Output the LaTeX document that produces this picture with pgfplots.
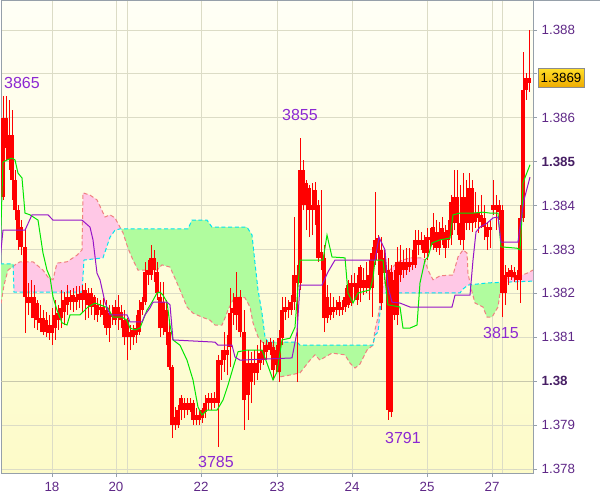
\documentclass[border=0pt]{standalone}
\usepackage{fontspec}
\setmainfont{Liberation Sans}
\usepackage{pgfplots}
\usepackage{pgfplotstable}
\pgfplotsset{compat=1.18}

\definecolor{bgtop}{RGB}{255,255,246}
\definecolor{bgbot}{RGB}{253,251,200}
\definecolor{gridc}{RGB}{220,220,198}
\definecolor{gridd}{RGB}{200,200,172}
\definecolor{axc}{RGB}{150,160,170}
\definecolor{tickc}{RGB}{95,40,135}
\definecolor{tickb}{RGB}{70,30,100}
\definecolor{annc}{RGB}{140,40,210}
\definecolor{cloudpink}{RGB}{255,200,230}
\definecolor{cloudgreen}{RGB}{176,252,158}
\definecolor{spana}{RGB}{240,128,128}
\definecolor{spanb}{RGB}{0,228,240}
\definecolor{tenkan}{RGB}{0,230,0}
\definecolor{kijun}{RGB}{150,20,200}
\definecolor{boxtop}{RGB}{255,222,40}
\definecolor{boxbot}{RGB}{238,170,0}

\pgfplotstableread{
x lo bb bt hi
3 1.38413 1.38420 1.38600 1.38650
6 1.38504 1.38531 1.38600 1.38650
9 1.38481 1.38504 1.38561 1.38641
12 1.38413 1.38458 1.38561 1.38618
15 1.38367 1.38390 1.38458 1.38481
18 1.38299 1.38322 1.38390 1.38401
21 1.38287 1.38306 1.38351 1.38367
25 1.38110 1.38192 1.38306 1.38344
28 1.38151 1.38178 1.38192 1.38224
31 1.38144 1.38178 1.38192 1.38231
34 1.38121 1.38144 1.38192 1.38219
37 1.38117 1.38139 1.38178 1.38185
40 1.38112 1.38133 1.38144 1.38174
43 1.38105 1.38112 1.38144 1.38162
46 1.38101 1.38112 1.38139 1.38158
49 1.38094 1.38110 1.38128 1.38151
52 1.38082 1.38110 1.38128 1.38167
55 1.38094 1.38121 1.38151 1.38185
58 1.38117 1.38139 1.38155 1.38174
61 1.38121 1.38144 1.38167 1.38208
64 1.38128 1.38158 1.38185 1.38203
67 1.38151 1.38174 1.38192 1.38219
70 1.38162 1.38180 1.38192 1.38208
73 1.38158 1.38180 1.38196 1.38212
76 1.38162 1.38180 1.38192 1.38217
79 1.38167 1.38185 1.38199 1.38217
82 1.38158 1.38185 1.38201 1.38219
85 1.38139 1.38185 1.38208 1.38224
88 1.38144 1.38174 1.38201 1.38212
91 1.38151 1.38169 1.38201 1.38212
94 1.38139 1.38169 1.38192 1.38196
97 1.38135 1.38151 1.38174 1.38190
100 1.38146 1.38162 1.38169 1.38185
103 1.38128 1.38151 1.38169 1.38190
106 1.38105 1.38121 1.38162 1.38185
109 1.38089 1.38121 1.38155 1.38174
112 1.38128 1.38146 1.38151 1.38174
115 1.38128 1.38139 1.38169 1.38185
118 1.38117 1.38144 1.38169 1.38196
121 1.38121 1.38139 1.38158 1.38174
124 1.38082 1.38101 1.38139 1.38162
127 1.38048 1.38101 1.38139 1.38144
130 1.38071 1.38101 1.38112 1.38128
133 1.38082 1.38101 1.38117 1.38128
136 1.38087 1.38105 1.38121 1.38151
139 1.38105 1.38112 1.38162 1.38185
142 1.38151 1.38162 1.38180 1.38192
145 1.38174 1.38180 1.38249 1.38272
148 1.38219 1.38242 1.38253 1.38276
151 1.38231 1.38242 1.38281 1.38310
154 1.38226 1.38253 1.38281 1.38299
157 1.38185 1.38201 1.38249 1.38272
160 1.38101 1.38121 1.38192 1.38226
163 1.38105 1.38121 1.38180 1.38226
166 1.38082 1.38112 1.38162 1.38185
169 1.38026 1.38032 1.38112 1.38139
172 1.37871 1.37900 1.38032 1.38037
175 1.37889 1.37900 1.37918 1.37941
178 1.37893 1.37900 1.37934 1.37946
181 1.37912 1.37934 1.37962 1.37969
184 1.37916 1.37934 1.37950 1.37962
187 1.37923 1.37934 1.37950 1.37962
190 1.37930 1.37934 1.37950 1.37962
193 1.37900 1.37912 1.37950 1.37957
196 1.37900 1.37912 1.37923 1.37939
199 1.37900 1.37912 1.37923 1.37934
202 1.37905 1.37916 1.37934 1.37939
205 1.37916 1.37930 1.37950 1.37969
208 1.37934 1.37950 1.37962 1.37973
211 1.37934 1.37950 1.37962 1.37973
214 1.37939 1.37950 1.37962 1.37975
218 1.37850 1.37950 1.38048 1.38060
221 1.38003 1.38037 1.38048 1.38071
224 1.38021 1.38048 1.38071 1.38112
227 1.38014 1.38060 1.38071 1.38105
230 1.38032 1.38078 1.38155 1.38212
233 1.38128 1.38155 1.38167 1.38201
236 1.38117 1.38151 1.38192 1.38249
240 1.38101 1.38112 1.38192 1.38208
244 1.37889 1.37957 1.38112 1.38162
248 1.37912 1.37969 1.38041 1.38071
251 1.37950 1.37998 1.38041 1.38067
254 1.37991 1.38019 1.38041 1.38071
257 1.38003 1.38019 1.38041 1.38082
260 1.38026 1.38041 1.38064 1.38094
263 1.38037 1.38048 1.38071 1.38089
266 1.38048 1.38067 1.38082 1.38094
270 1.38060 1.38071 1.38089 1.38098
273 1.38003 1.38026 1.38078 1.38094
276 1.38021 1.38037 1.38071 1.38082
279 1.37998 1.38021 1.38098 1.38117
282 1.38082 1.38098 1.38162 1.38192
285 1.38139 1.38158 1.38169 1.38192
288 1.38144 1.38162 1.38169 1.38185
291 1.38151 1.38162 1.38180 1.38196
294 1.38162 1.38180 1.38242 1.38374
297 1.37998 1.38224 1.38242 1.38265
300 1.38208 1.38224 1.38481 1.38554
303 1.38390 1.38401 1.38481 1.38504
306 1.38344 1.38401 1.38452 1.38458
309 1.38328 1.38390 1.38440 1.38447
312 1.38333 1.38390 1.38401 1.38452
315 1.38356 1.38390 1.38436 1.38454
318 1.38272 1.38281 1.38401 1.38413
321 1.38253 1.38281 1.38294 1.38436
324 1.38112 1.38144 1.38281 1.38310
327 1.38133 1.38144 1.38192 1.38219
330 1.38139 1.38151 1.38169 1.38201
333 1.38144 1.38158 1.38169 1.38192
336 1.38151 1.38162 1.38169 1.38185
339 1.38149 1.38162 1.38180 1.38194
342 1.38151 1.38162 1.38169 1.38185
345 1.38158 1.38169 1.38192 1.38212
348 1.38167 1.38174 1.38219 1.38231
351 1.38171 1.38178 1.38224 1.38242
354 1.38185 1.38215 1.38224 1.38246
357 1.38174 1.38185 1.38224 1.38242
360 1.38180 1.38212 1.38260 1.38265
363 1.38196 1.38212 1.38231 1.38258
366 1.38201 1.38212 1.38231 1.38272
369 1.38185 1.38212 1.38242 1.38276
372 1.38146 1.38212 1.38292 1.38306
375 1.38265 1.38276 1.38322 1.38431
378 1.38242 1.38292 1.38326 1.38333
381 1.38162 1.38178 1.38299 1.38328
384 1.38231 1.38246 1.38281 1.38299
388 1.37912 1.37934 1.38253 1.38281
391 1.37918 1.37930 1.38249 1.38265
394 1.38139 1.38151 1.38231 1.38253
397 1.38128 1.38151 1.38272 1.38306
400 1.38226 1.38242 1.38272 1.38310
403 1.38235 1.38253 1.38272 1.38299
406 1.38242 1.38253 1.38272 1.38303
409 1.38249 1.38260 1.38272 1.38303
412 1.38253 1.38265 1.38272 1.38299
415 1.38258 1.38265 1.38322 1.38344
418 1.38287 1.38310 1.38322 1.38344
421 1.38299 1.38310 1.38322 1.38340
424 1.38281 1.38292 1.38322 1.38333
427 1.38276 1.38292 1.38328 1.38349
430 1.38303 1.38322 1.38328 1.38349
433 1.38299 1.38310 1.38351 1.38383
436 1.38294 1.38303 1.38340 1.38367
439 1.38287 1.38303 1.38340 1.38363
442 1.38310 1.38322 1.38349 1.38374
445 1.38281 1.38303 1.38340 1.38356
448 1.38303 1.38322 1.38344 1.38367
451 1.38310 1.38333 1.38408 1.38424
454 1.38344 1.38360 1.38420 1.38481
457 1.38333 1.38360 1.38420 1.38481
460 1.38310 1.38322 1.38360 1.38447
463 1.38299 1.38322 1.38420 1.38474
466 1.38344 1.38360 1.38420 1.38458
469 1.38344 1.38360 1.38440 1.38474
472 1.38340 1.38360 1.38440 1.38458
475 1.38349 1.38363 1.38383 1.38431
478 1.38338 1.38372 1.38383 1.38401
481 1.38349 1.38363 1.38379 1.38424
484 1.38322 1.38351 1.38372 1.38401
487 1.38299 1.38328 1.38351 1.38363
490 1.38303 1.38344 1.38351 1.38367
493 1.38379 1.38390 1.38401 1.38458
496 1.38344 1.38390 1.38401 1.38424
499 1.38367 1.38385 1.38401 1.38413
502 1.38146 1.38201 1.38390 1.38401
505 1.38174 1.38201 1.38242 1.38265
508 1.38219 1.38237 1.38249 1.38258
511 1.38231 1.38237 1.38253 1.38265
514 1.38226 1.38237 1.38249 1.38260
517 1.38208 1.38231 1.38242 1.38253
520 1.38178 1.38231 1.38372 1.38401
523 1.38363 1.38372 1.38663 1.38750
526 1.38641 1.38663 1.38691 1.38702
529 1.38659 1.38679 1.38691 1.38800
}\candles

\begin{document}
\begin{tikzpicture}
\path[use as bounding box] (-0.75pt,-18pt) rectangle (449.25pt,354.75pt);
\begin{axis}[
  at={(0pt,0pt)}, anchor=south west,
  scale only axis, width=399pt, height=354pt,
  xmin=1, xmax=533, ymin=1.3779089, ymax=1.388661,
  axis background/.style={top color=bgtop, bottom color=bgbot},
  axis line style={draw=axc, line width=0.75pt},
  tick align=outside, major tick length=3pt,
  tick style={draw=axc, line width=0.75pt},
  xtick pos=bottom, ytick pos=right, yticklabel pos=right,
  grid=major, major grid style={draw=gridc, line width=0.75pt},
  xtick={52,116,201,277,352,427,492},
  xticklabels={18,20,22,23,24,25,27},
  extra x ticks={127,502}, extra x tick labels={},
  extra x tick style={grid=major, major tick length=0pt},
  ytick={1.378,1.379,1.381,1.382,1.383,1.384,1.386,1.387,1.388},
  yticklabels={1.378,1.379,1.381,1.382,1.383,1.384,1.386,{},1.388},
  extra y ticks={1.38,1.385},
  extra y tick labels={\textbf{1.38},\textbf{1.385}},
  extra y tick style={grid=major, major grid style={draw=gridd, line width=0.75pt}, yticklabel style={text=tickb}},
  ticklabel style={font=\fontsize{10}{12}\selectfont, text=tickc},
  yticklabel style={anchor=west},
  scaled y ticks=false,
]
% cloud fills (between span A and span B)
\addplot[fill=cloudgreen, draw=none] coordinates {
(0,1.38162)(4,1.38219)(8,1.38253)(13.1,1.38261)(13,1.38267)(0,1.38267)} -- cycle;
\addplot[fill=cloudpink, draw=none] coordinates {
(13.1,1.38261)(15,1.38265)(20,1.38272)(33,1.38272)(43,1.38253)(48,1.38237)(53,1.38231)(57,1.38269)(67,1.38272)(77,1.38287)(82,1.38299)(83,1.38429)(90,1.38424)(97,1.38413)(105,1.38374)(110,1.38379)(115,1.38372)(120.9,1.38347)
(120,1.38347)(115,1.38344)(110,1.38328)(103,1.38281)(84,1.38276)(82,1.38203)(14,1.38203)(13.1,1.38261)} -- cycle;
\addplot[fill=cloudgreen, draw=none] coordinates {
(120.9,1.38347)(188,1.38347)(192,1.38367)(207,1.38367)(212,1.38351)(247,1.38351)(252,1.38333)(255,1.38269)(258,1.38208)(262,1.38155)(265,1.38101)(268,1.38089)(297,1.38089)(300,1.38082)(373,1.38082)
(367,1.38071)(360,1.38039)(355,1.38030)(350,1.38041)(345,1.38060)(332,1.38064)(325,1.38055)(320,1.38048)(315,1.38060)(310,1.38048)(300,1.38019)(290,1.38014)(280,1.38010)(273,1.38080)(268,1.38082)(263,1.38087)(258,1.38101)(253,1.38133)(250,1.38169)(245,1.38190)(240,1.38192)(233,1.38185)(228,1.38162)(225,1.38144)(222,1.38128)(215,1.38128)(210,1.38139)(202,1.38146)(193,1.38155)(187,1.38169)(180,1.38208)(177,1.38224)(170,1.38260)(162,1.38265)(157,1.38253)(138,1.38253)(133,1.38276)(128,1.38303)(123,1.38338)(120.9,1.38347)} -- cycle;
\addplot[fill=cloudpink, draw=none] coordinates {
(373,1.38082)(375,1.38117)(378,1.38146)(380,1.38178)(382,1.38208)(388,1.38249)(395,1.38265)(400,1.38274)(410,1.38281)(422,1.38281)(425,1.38276)(428,1.38253)(433,1.38231)(440,1.38240)(453,1.38242)(458,1.38283)(463,1.38299)(467,1.38292)(468,1.38246)(470.35,1.38219)
(468,1.38219)(463,1.38210)(460,1.38201)(382,1.38201)(380,1.38158)(378,1.38112)(375,1.38105)(373,1.38082)} -- cycle;
\addplot[fill=cloudgreen, draw=none] coordinates {
(470.35,1.38219)(488,1.38224)(502.6,1.38225)
(502,1.38224)(500,1.38201)(498,1.38169)(492,1.38146)(487,1.38146)(483,1.38169)(475,1.38178)(471,1.38212)(470.35,1.38219)} -- cycle;
\addplot[fill=cloudpink, draw=none] coordinates {
(502.6,1.38225)(507,1.38235)(517,1.38237)(527,1.38246)(533,1.38253)(533,1.38228)(502.6,1.38225)} -- cycle;

% Senkou span A (salmon) and B (cyan)
\addplot[draw=spana, line width=0.75pt, dash pattern=on 3pt off 2pt, mark=none] coordinates {
(0,1.38162)(4,1.38219)(8,1.38253)(15,1.38265)(20,1.38272)(33,1.38272)(43,1.38253)(48,1.38237)(53,1.38231)(57,1.38269)(67,1.38272)(77,1.38287)(82,1.38299)(83,1.38429)(90,1.38424)(97,1.38413)(105,1.38374)(110,1.38379)(115,1.38372)(123,1.38338)(128,1.38303)(133,1.38276)(138,1.38253)(157,1.38253)(162,1.38265)(170,1.38260)(177,1.38224)(180,1.38208)(187,1.38169)(193,1.38155)(202,1.38146)(210,1.38139)(215,1.38128)(222,1.38128)(225,1.38144)(228,1.38162)(233,1.38185)(240,1.38192)(245,1.38190)(250,1.38169)(253,1.38133)(258,1.38101)(263,1.38087)(268,1.38082)(273,1.38080)(280,1.38010)(290,1.38014)(300,1.38019)(310,1.38048)(315,1.38060)(320,1.38048)(325,1.38055)(332,1.38064)(345,1.38060)(350,1.38041)(355,1.38030)(360,1.38039)(367,1.38071)(373,1.38082)(375,1.38117)(378,1.38146)(380,1.38178)(382,1.38208)(388,1.38249)(395,1.38265)(400,1.38274)(410,1.38281)(422,1.38281)(425,1.38276)(428,1.38253)(433,1.38231)(440,1.38240)(453,1.38242)(458,1.38283)(463,1.38299)(467,1.38292)(468,1.38246)(471,1.38212)(475,1.38178)(483,1.38169)(487,1.38146)(492,1.38146)(498,1.38169)(500,1.38201)(502,1.38224)(507,1.38235)(517,1.38237)(527,1.38246)(533,1.38253)
};
\addplot[draw=spanb, line width=0.75pt, dash pattern=on 3pt off 2pt, mark=none] coordinates {
(0,1.38267)(13,1.38267)(14,1.38203)(82,1.38203)(84,1.38276)(103,1.38281)(110,1.38328)(115,1.38344)(120,1.38347)(188,1.38347)(192,1.38367)(207,1.38367)(212,1.38351)(247,1.38351)(252,1.38333)(255,1.38269)(258,1.38208)(262,1.38155)(265,1.38101)(268,1.38089)(297,1.38089)(300,1.38082)(373,1.38082)(375,1.38105)(378,1.38112)(380,1.38158)(382,1.38201)(460,1.38201)(463,1.38210)(468,1.38219)(488,1.38224)(533,1.38228)
};

% candles: wicks and bodies
\addplot[red, only marks, mark=text, text mark={}, error bars/.cd, y dir=plus, y explicit, error mark=none,
  error bar style={draw=red, line width=0.75pt}]
  table[x=x, y=lo, y error plus expr=\thisrow{hi}-\thisrow{lo}] {\candles};
\addplot[red, only marks, mark=text, text mark={}, error bars/.cd, y dir=plus, y explicit, error mark=none,
  error bar style={draw=red, line width=2.3pt}]
  table[x=x, y=bb, y error plus expr=\thisrow{bt}-\thisrow{bb}] {\candles};

% Tenkan (green)
\addplot[draw=tenkan, line width=0.75pt, mark=none] coordinates {
(0,1.38283)(3,1.38499)(7,1.38504)(12,1.38508)(15,1.38504)(18,1.38474)(22,1.38463)(25,1.38383)(30,1.38379)(38,1.38367)(43,1.38292)(47,1.38253)(50,1.38237)(53,1.38192)(57,1.38162)(62,1.38133)(67,1.38128)(70,1.38151)(80,1.38151)(88,1.38169)(95,1.38178)(100,1.38174)(108,1.38167)(110,1.38158)(113,1.38146)(122,1.38146)(127,1.38139)(130,1.38121)(135,1.38117)(140,1.38121)(143,1.38139)(147,1.38162)(152,1.38180)(157,1.38201)(160,1.38203)(163,1.38196)(167,1.38180)(170,1.38128)(173,1.38094)(180,1.38082)(187,1.38048)(193,1.38003)(198,1.37941)(202,1.37923)(207,1.37934)(217,1.37934)(223,1.37957)(228,1.37991)(233,1.38030)(238,1.38067)(247,1.38071)(262,1.38071)(267,1.38041)(273,1.38003)(277,1.38021)(282,1.38094)(290,1.38098)(295,1.38123)(300,1.38276)(323,1.38276)(327,1.38333)(332,1.38283)(345,1.38281)(348,1.38201)(353,1.38178)(358,1.38201)(370,1.38208)(373,1.38235)(375,1.38276)(383,1.38276)(385,1.38231)(388,1.38174)(400,1.38169)(403,1.38121)(410,1.38121)(417,1.38128)(420,1.38224)(425,1.38276)(428,1.38283)(432,1.38315)(440,1.38322)(450,1.38326)(453,1.38379)(460,1.38383)(473,1.38383)(483,1.38385)(490,1.38383)(498,1.38383)(501,1.38306)(517,1.38303)(520,1.38299)(522,1.38374)(523,1.38452)(530,1.38493)
};
% Kijun (purple)
\addplot[draw=kijun, line width=0.75pt, mark=none] coordinates {
(0,1.38276)(3,1.38344)(25,1.38344)(32,1.38379)(48,1.38379)(53,1.38367)(82,1.38367)(90,1.38351)(93,1.38322)(97,1.38246)(100,1.38231)(105,1.38180)(108,1.38162)(110,1.38151)(127,1.38151)(130,1.38135)(142,1.38135)(145,1.38151)(150,1.38167)(153,1.38180)(167,1.38180)(170,1.38174)(173,1.38094)(215,1.38089)(218,1.38082)(232,1.38082)(235,1.38055)(240,1.38048)(292,1.38053)(297,1.38112)(300,1.38219)(322,1.38219)(328,1.38249)(335,1.38276)(375,1.38276)(379,1.38328)(385,1.38299)(388,1.38215)(392,1.38180)(400,1.38178)(410,1.38169)(452,1.38169)(455,1.38196)(470,1.38196)(473,1.38276)(476,1.38340)(480,1.38351)(487,1.38360)(493,1.38372)(498,1.38374)(501,1.38317)(518,1.38317)(521,1.38367)(524,1.38413)(530,1.38465)
};

\node[text=annc, font=\fontsize{12}{14}\selectfont] at (axis cs:22,1.38679) {3865};
\node[text=annc, font=\fontsize{12}{14}\selectfont] at (axis cs:300,1.38606) {3855};
\node[text=annc, font=\fontsize{12}{14}\selectfont] at (axis cs:216,1.37816) {3785};
\node[text=annc, font=\fontsize{12}{14}\selectfont] at (axis cs:403,1.37871) {3791};
\node[text=annc, font=\fontsize{12}{14}\selectfont] at (axis cs:501,1.38110) {3815};
\end{axis}
\draw[axc, line width=0.75pt] (399pt,354pt) -- (449.25pt,354pt);
\node[draw={rgb,255:red,140;green,140;blue,140}, line width=0.6pt, top color=boxtop, bottom color=boxbot,
  text=black, font=\fontsize{10}{12}\selectfont, inner xsep=1.5pt, inner ysep=0pt,
  minimum height=14.5pt, minimum width=34.5pt] at (420pt,296.25pt) {1.3869};
\end{tikzpicture}
\end{document}
